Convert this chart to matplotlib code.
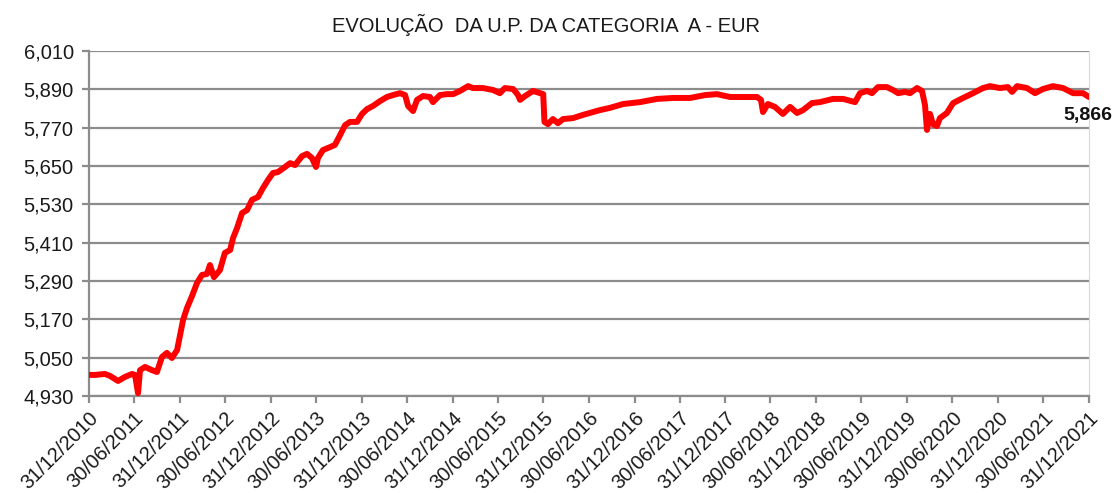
import matplotlib
matplotlib.use("Agg")
import matplotlib.pyplot as plt
import pandas as pd

plt.rcParams['font.family'] = ['Liberation Sans', 'DejaVu Sans']

title = "EVOLUÇÃO  DA U.P. DA CATEGORIA  A - EUR"

dates = [
    "2010-12-31", "2011-01-24", "2011-03-05", "2011-03-25", "2011-04-27", "2011-05-25",
    "2011-06-22", "2011-07-04", "2011-07-16", "2011-07-24", "2011-08-13", "2011-09-10",
    "2011-09-30", "2011-10-20", "2011-11-09", "2011-11-29", "2011-12-20", "2012-01-01",
    "2012-01-13", "2012-01-29", "2012-02-18", "2012-03-09", "2012-03-29", "2012-04-18",
    "2012-04-30", "2012-05-16", "2012-06-09", "2012-06-29", "2012-07-20", "2012-08-01",
    "2012-08-17", "2012-09-06", "2012-09-26", "2012-10-16", "2012-11-09", "2012-11-29",
    "2012-12-19", "2013-01-08", "2013-01-28", "2013-02-26", "2013-03-18", "2013-04-07",
    "2013-05-05", "2013-05-25", "2013-06-14", "2013-06-30", "2013-07-08", "2013-07-28",
    "2013-08-25", "2013-09-14", "2013-10-05", "2013-10-25", "2013-11-14", "2013-12-12",
    "2014-01-01", "2014-01-21", "2014-02-14", "2014-03-14", "2014-04-11", "2014-05-05",
    "2014-06-03", "2014-06-23", "2014-07-05", "2014-07-25", "2014-08-10", "2014-09-03",
    "2014-10-01", "2014-10-13", "2014-11-10", "2014-12-08", "2015-01-02", "2015-01-30",
    "2015-03-03", "2015-03-23", "2015-05-02", "2015-06-11", "2015-07-09", "2015-07-29",
    "2015-08-31", "2015-09-20", "2015-09-28", "2015-10-18", "2015-11-19", "2015-12-17",
    "2015-12-30", "2016-01-04", "2016-01-18", "2016-02-07", "2016-02-27", "2016-03-19",
    "2016-04-28", "2016-06-07", "2016-07-17", "2016-08-14", "2016-09-23", "2016-11-15",
    "2017-01-22", "2017-03-31", "2017-06-04", "2017-08-11", "2017-10-10", "2017-11-27",
    "2018-01-19", "2018-03-28", "2018-05-07", "2018-05-23", "2018-05-31", "2018-06-20",
    "2018-07-18", "2018-08-19", "2018-09-17", "2018-10-15", "2018-11-08", "2018-12-14",
    "2019-01-15", "2019-03-08", "2019-04-18", "2019-06-05", "2019-06-25", "2019-07-23",
    "2019-08-12", "2019-09-05", "2019-10-11", "2019-11-04", "2019-11-25", "2019-12-23",
    "2020-01-12", "2020-02-09", "2020-02-29", "2020-03-12", "2020-03-20", "2020-04-01",
    "2020-04-13", "2020-04-29", "2020-05-11", "2020-06-08", "2020-07-03", "2020-08-12",
    "2020-09-21", "2020-10-31", "2020-11-28", "2021-01-07", "2021-02-08", "2021-02-25",
    "2021-03-17", "2021-04-26", "2021-05-28", "2021-06-29", "2021-08-08", "2021-09-18",
    "2021-10-28", "2021-12-07", "2021-12-31",
]

values = [
    4.996, 4.996, 4.999, 4.993, 4.977, 4.990,
    4.999, 4.996, 4.939, 5.011, 5.021, 5.011,
    5.005, 5.052, 5.065, 5.049, 5.074, 5.121,
    5.168, 5.206, 5.243, 5.284, 5.309, 5.312,
    5.340, 5.302, 5.324, 5.378, 5.387, 5.425,
    5.456, 5.503, 5.512, 5.544, 5.553, 5.581,
    5.606, 5.628, 5.631, 5.647, 5.659, 5.653,
    5.681, 5.688, 5.675, 5.647, 5.675, 5.700,
    5.709, 5.716, 5.747, 5.778, 5.788, 5.788,
    5.813, 5.828, 5.838, 5.853, 5.866, 5.872,
    5.878, 5.872, 5.838, 5.822, 5.857, 5.869,
    5.866, 5.850, 5.872, 5.875, 5.875, 5.885,
    5.900, 5.894, 5.894, 5.888, 5.878, 5.894,
    5.891, 5.872, 5.857, 5.869, 5.885, 5.878,
    5.875, 5.788, 5.781, 5.797, 5.784, 5.797,
    5.800, 5.810, 5.819, 5.825, 5.832, 5.844,
    5.850, 5.860, 5.863, 5.863, 5.872, 5.875,
    5.866, 5.866, 5.866, 5.857, 5.819, 5.844,
    5.835, 5.813, 5.835, 5.816, 5.825, 5.847,
    5.850, 5.860, 5.860, 5.850, 5.878, 5.885,
    5.878, 5.897, 5.897, 5.888, 5.878, 5.882,
    5.878, 5.894, 5.885, 5.841, 5.763, 5.813,
    5.781, 5.775, 5.800, 5.816, 5.847, 5.863,
    5.878, 5.894, 5.900, 5.894, 5.897, 5.882,
    5.900, 5.894, 5.878, 5.891, 5.900, 5.894,
    5.878, 5.878, 5.866,
]

tick_dates = [
    "2010-12-31", "2011-06-30", "2011-12-31", "2012-06-30", "2012-12-31", "2013-06-30",
    "2013-12-31", "2014-06-30", "2014-12-31", "2015-06-30", "2015-12-31", "2016-06-30",
    "2016-12-31", "2017-06-30", "2017-12-31", "2018-06-30", "2018-12-31", "2019-06-30",
    "2019-12-31", "2020-06-30", "2020-12-31", "2021-06-30", "2021-12-31",
]
y_ticks = [4.930, 5.050, 5.170, 5.290, 5.410, 5.530, 5.650, 5.770, 5.890, 6.010]
last_label = "5,866"

x = pd.to_datetime(dates)
xt = pd.to_datetime(tick_dates)

fig = plt.figure(figsize=(11.15, 4.93), dpi=100)
ax = fig.add_axes([89/1115, 1-396/493, 1000/1115, 345/493])

grid_c = "#8c8c8c"
ax.plot(x, values, color="#ff0000", lw=4.3, solid_capstyle="round", solid_joinstyle="round", zorder=3)

ax.set_xlim(xt[0], xt[-1])
ax.set_ylim(y_ticks[0], y_ticks[-1])
ax.set_yticks(y_ticks)
ax.set_yticklabels([f"{v:.3f}".replace(".", ",") for v in y_ticks])
ax.set_xticks(xt)
ax.set_xticklabels([d.strftime("%d/%m/%Y") for d in xt], rotation=45, ha="right",
                   va="top", rotation_mode="anchor")

ax.yaxis.grid(True, color=grid_c, lw=1.6)
ax.set_axisbelow(True)
ax.spines["top"].set_visible(False)
ax.spines["right"].set_color("#d9d9d9")
ax.spines["right"].set_linewidth(0.8)
for s in ["left", "bottom"]:
    ax.spines[s].set_color(grid_c)
    ax.spines[s].set_linewidth(1.6)
ax.tick_params(axis="both", colors=grid_c, width=1.6, length=5, labelsize=14.5,
               labelcolor="#1a1a1a")
ax.tick_params(axis="x", pad=4)
ax.tick_params(axis="y", pad=6)

ax.annotate(last_label, xy=(x[-1], values[-1]), xytext=(-1, -13), textcoords="offset points",
            ha="center", va="center", fontsize=14, fontweight="bold", color="#111111",
            annotation_clip=False)

fig.text(546/1115, 1-25/493, title, ha="center", va="center", fontsize=14.5, color="#1a1a1a")

fig.savefig("out.png", dpi=100)
